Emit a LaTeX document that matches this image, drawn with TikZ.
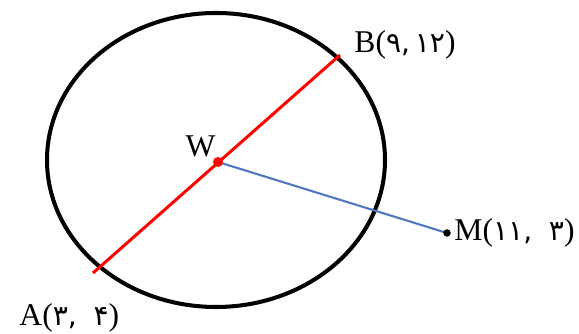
\documentclass[tikz,border=0pt]{standalone}
\usepackage{fontspec}
\setmainfont{Liberation Serif}
\newfontfamily\fanum{DejaVu Sans}

\begin{document}
\begin{tikzpicture}[thick, baseline=(current bounding box.center)]
				% Stili per punti ed etichette
				\tikzset{punto/.style={circle, fill, inner sep=0pt, minimum size=#1},
					etich/.style={inner sep=1pt, font=\fontsize{18}{20}\selectfont}}
				\newcommand{\fa}[1]{{\fanum\fontsize{16}{18}\selectfont #1}}
				\useasboundingbox (0,0) rectangle (11.58,6.68);
				
				% Circonferenza
				\draw[line width=2.3pt] (4.32,3.48) ellipse [x radius=3.38, y radius=2.94];
				
				% Punti
				\coordinate (A) at (1.86,1.22);
				\coordinate (B) at (6.80,5.58);
				\coordinate (W) at (4.36,3.44);
				\coordinate (M) at (8.94,2.02);
				
				% Diametro AB e segmento WM
				\draw[red, line width=1.7pt] (A) -- (B);
				\draw[color={rgb,255:red,80;green,120;blue,190}, line width=1.2pt] (W) -- (M);
				\node[punto=0.2cm, red] (w) at (W) {};
				\node[punto=0.15cm, black] (m) at (M) {};
				
				% Etichette
				\node[etich, anchor=south east] (lw) at (4.36,3.5) {W};
				\node[etich, anchor=west] (lb) at (7.04,5.78) {B(\fa{۹,\,۱۲})};
				\node[etich, anchor=west] (la) at (0.34,0.32) {A(\fa{۳,\; ۴})};
				\node[etich, anchor=west] (lm) at (9.04,2.02) {M(\fa{۱۱,\; ۳})};
			\end{tikzpicture}
\end{document}
